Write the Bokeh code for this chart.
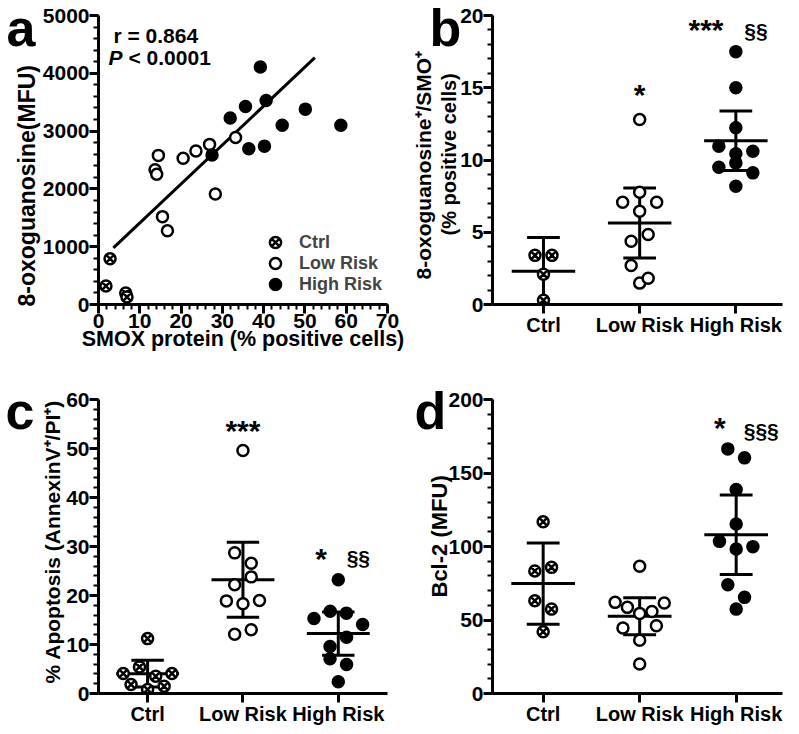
import numpy as np
from bokeh.plotting import figure
from bokeh.layouts import gridplot
from bokeh.models import (Label, Legend, LegendItem, SingleIntervalTicker,
                          FixedTicker, Range1d, Title)
from bokeh.embed import file_html
from bokeh.resources import INLINE

FONT = "Liberation Sans"
CATEGORIES = ["Ctrl", "Low Risk", "High Risk"]

# ---------------- panel a : SMOX protein vs 8-oxoguanosine ----------------
a_ctrl_smox = [1.8, 2.8, 6.6, 6.9]
a_ctrl_oxo = [320, 790, 200, 130]
a_low_smox = [13.7, 14.1, 14.5, 15.5, 16.7, 20.5, 23.6, 26.9, 28.3, 33.2]
a_low_oxo = [2330, 2255, 2580, 1520, 1275, 2530, 2655, 2770, 1910, 2890]
a_high_smox = [27.5, 31.9, 35.6, 39.2, 36.4, 40.6, 40.2, 44.5, 50.1, 58.7]
a_high_oxo = [2585, 3225, 3425, 4110, 2695, 3530, 2740, 3100, 3380, 3100]
a_fit_smox = [3.6, 52.4]          # regression line end points
a_fit_oxo = [980, 4270]
a_r_text = "r = 0.864"
a_p_text = "< 0.0001"

# ---------------- panel b : 8-oxoguanosine+/SMO+ (% positive cells) -------
b_ctrl = [3.4, 2.1, 3.4, 0.3]
b_low = [12.8, 7.08, 7.77, 7.08, 6.46, 4.38, 4.84, 2.70, 1.48, 1.82]
b_high = [17.5, 15.0, 12.23, 10.96, 10.43, 10.61, 9.50, 9.80, 9.11, 8.19]

# ---------------- panel c : % apoptosis ----------------
c_ctrl = [11.2, 4.08, 5.43, 3.5, 4.08, 1.83, 0.8, 1.5]
c_low = [49.6, 28.7, 26.6, 22.2, 23.8, 18.9, 18.3, 19.0, 12.1, 13.0]
c_high = [23.2, 15.3, 16.8, 16.4, 14.1, 9.6, 11.5, 7.1, 5.9, 2.4]

# ---------------- panel d : Bcl-2 (MFU) ----------------
d_ctrl = [116.9, 83.3, 85.8, 63.1, 57.4, 42.0]
d_low = [86.5, 62.0, 58.6, 54.5, 55.8, 61.5, 44.5, 36.3, 46.1, 20.0]
d_high = [166.4, 160.3, 138.7, 115.3, 103.5, 98.3, 99.9, 74.0, 65.4, 57.4]

# significance marks: (text, category position, value)
b_marks = [("*", 2.0, 14.5), ("***", 2.69, 19.0), ("§§", 3.21, 18.95)]
c_marks = [("***", 2.0, 53.7), ("*", 2.82, 27.6), ("§§", 3.21, 27.7)]
d_marks = [("*", 2.83, 181.0), ("§§§", 3.26, 178.6)]

T975 = {3: 3.182, 4: 2.776, 5: 2.571, 6: 2.447, 7: 2.365, 8: 2.306, 9: 2.262}


def mean_ci(v):
    v = np.asarray(v, float)
    n = len(v)
    return v.mean(), T975[n - 1] * v.std(ddof=1) / np.sqrt(n)


def swarm_offsets(values, px_per_unit, row_tol=15.0, step=17.0, max_half=25.0):
    vals = np.asarray(values, float)
    order = sorted(range(len(vals)), key=lambda i: -vals[i])
    rows, cur = [], []
    for i in order:
        if cur and (vals[cur[0]] - vals[i]) * px_per_unit >= row_tol:
            rows.append(cur)
            cur = []
        cur.append(i)
    if cur:
        rows.append(cur)
    offs = np.zeros(len(vals))
    for row in rows:
        row = sorted(row)
        n = len(row)
        s = step if n <= 2 else min(step, 2 * max_half / (n - 1))
        for k, i in enumerate(row):
            offs[i] = (k - (n - 1) / 2) * s
    return offs


def style_axis(ax, size=20):
    ax.axis_line_width = 3
    ax.axis_line_color = "black"
    ax.major_tick_line_width = 3
    ax.major_tick_line_color = "black"
    ax.minor_tick_line_width = 2
    ax.minor_tick_line_color = "black"
    ax.major_tick_in = 0
    ax.major_tick_out = 9
    ax.minor_tick_in = 0
    ax.minor_tick_out = 5
    ax.major_label_text_font = FONT
    ax.major_label_text_font_style = "bold"
    ax.major_label_text_font_size = f"{size}px"
    ax.major_label_text_color = "black"
    ax.major_label_standoff = 0


def text(p, s, x, y, size, units="screen", align="left",
         baseline="alphabetic", style="bold"):
    p.add_layout(Label(x=x, y=y, x_units=units, y_units=units, text=s,
                       text_align=align, text_baseline=baseline,
                       text_font=FONT, text_font_style=style,
                       text_font_size=f"{size}px", text_color="black"))


def side_title(p, s, size, offset, standoff):
    p.add_layout(Title(text=s, align="left", offset=offset,
                       vertical_align="bottom", standoff=standoff,
                       text_font=FONT, text_font_style="bold",
                       text_font_size=f"{size}px", text_color="black"), "left")


def letter(p, s, offset, standoff):
    t = p.title
    t.text = s
    t.align = "left"
    t.offset = offset
    t.vertical_align = "bottom"
    t.standoff = standoff
    t.text_font = FONT
    t.text_font_style = "bold"
    t.text_font_size = "52px"
    t.text_color = "black"


def make_fig(width, height, borders, xr, yr):
    l, r, t, b = borders
    p = figure(width=width, height=height, output_backend="svg",
               toolbar_location=None, x_range=Range1d(*xr), y_range=Range1d(*yr),
               min_border_left=l, min_border_right=r, min_border_top=t,
               min_border_bottom=b)
    p.outline_line_color = None
    p.xgrid.grid_line_color = None
    p.ygrid.grid_line_color = None
    p.background_fill_color = "white"
    p.border_fill_color = "white"
    return p


MARK = dict(size=11, line_color="black", line_width=2.5)
STYLES = [dict(marker="circle_x", fill_color="white"),
          dict(marker="circle", fill_color="white"),
          dict(marker="circle", fill_color="black")]


def group_panel(p, groups, frame_w, frame_h, xr, yr):
    px_x = frame_w / (xr[1] - xr[0])
    px_y = frame_h / (yr[1] - yr[0])
    for k, vals in enumerate(groups):
        cat = k + 1
        m, h = mean_ci(vals)
        p.segment(x0=[cat - 0.33], y0=[m], x1=[cat + 0.33], y1=[m],
                  line_width=3, line_color="black")
        p.segment(x0=[cat], y0=[m - h], x1=[cat], y1=[m + h],
                  line_width=3, line_color="black")
        p.segment(x0=[cat - 0.17, cat - 0.17], y0=[m - h, m + h],
                  x1=[cat + 0.17, cat + 0.17], y1=[m - h, m + h],
                  line_width=3, line_color="black")
        offs = swarm_offsets(vals, px_y) / px_x
        p.scatter(x=list(cat + offs), y=list(vals), **STYLES[k], **MARK)
    p.xaxis.ticker = FixedTicker(ticks=[1, 2, 3], minor_ticks=[])
    p.xaxis.major_label_overrides = {1: CATEGORIES[0], 2: CATEGORIES[1],
                                     3: CATEGORIES[2]}
    style_axis(p.xaxis[0], 20)
    style_axis(p.yaxis[0], 21)


def marks(p, items):
    for s, x, y in items:
        size = 30 if s.startswith("*") else 21
        text(p, s, x, y, size, units="data", align="center", baseline="middle")


# ======================= panel a =======================
pa = make_fig(404, 380, (97, 17, 15, 76), (0, 70), (0, 5000))
pa.line(x=a_fit_smox, y=a_fit_oxo, line_width=3, line_color="black")
r_ctrl = pa.scatter(x=a_ctrl_smox, y=a_ctrl_oxo, **STYLES[0], **MARK)
r_low = pa.scatter(x=a_low_smox, y=a_low_oxo, **STYLES[1], **MARK)
r_high = pa.scatter(x=a_high_smox, y=a_high_oxo, **STYLES[2], **MARK)
pa.xaxis.ticker = SingleIntervalTicker(interval=10, num_minor_ticks=5)
pa.yaxis.ticker = SingleIntervalTicker(interval=1000, num_minor_ticks=5)
style_axis(pa.xaxis[0], 21)
style_axis(pa.yaxis[0], 21)
pa.xaxis.axis_label = "SMOX protein (% positive cells)"
pa.xaxis.axis_label_text_font = FONT
pa.xaxis.axis_label_text_font_style = "bold"
pa.xaxis.axis_label_text_font_size = "21.5px"
pa.xaxis.axis_label_text_color = "black"
pa.xaxis.axis_label_standoff = -4
for lab, rend, ybot in [(CATEGORIES[0], r_ctrl, 48), (CATEGORIES[1], r_low, 27),
                        (CATEGORIES[2], r_high, 6)]:
    pa.add_layout(Legend(items=[LegendItem(label=lab, renderers=[rend])],
                         location=(163, ybot), glyph_width=28, glyph_height=28,
                         label_height=28, padding=0, margin=0, spacing=0,
                         label_standoff=10, border_line_color=None,
                         background_fill_alpha=0, label_text_font=FONT,
                         label_text_font_style="bold",
                         label_text_font_size="18px"))
letter(pa, "a", -92, -82)
side_title(pa, "8-oxoguanosine(MFU)", 23, -2, -1)
text(pa, a_r_text, 15, 269, 21)
text(pa, "P", 10, 247, 21, style="bold italic")
text(pa, a_p_text, 30, 247, 21)

# ======================= panel b =======================
b_xr, b_yr = (0.47, 3.485), (0, 20)
pb = make_fig(395, 380, (88, 17, 15, 76), b_xr, b_yr)
group_panel(pb, [b_ctrl, b_low, b_high], 290, 289, b_xr, b_yr)
pb.yaxis.ticker = SingleIntervalTicker(interval=5, num_minor_ticks=5)
marks(pb, b_marks)
letter(pb, "b", -63, -82)
side_title(pb, "(% positive cells)", 20, 69, -5)
side_title(pb, "8-oxoguanosine⁺/SMO⁺", 21, 25, 7)

# ======================= panel c =======================
c_xr, c_yr = (0.485, 3.516), (0, 60)
pc = make_fig(404, 354, (98, 9, 19, 41), c_xr, c_yr)
group_panel(pc, [c_ctrl, c_low, c_high], 297, 294, c_xr, c_yr)
pc.yaxis.ticker = SingleIntervalTicker(interval=10, num_minor_ticks=5)
marks(pc, c_marks)
letter(pc, "c", -93, -80)
side_title(pc, "% Apoptosis (AnnexinV⁺/PI⁺)", 21, 10, -1)

# ======================= panel d =======================
d_xr, d_yr = (0.475, 3.48), (0, 200)
pd_ = make_fig(395, 354, (88, 12, 19, 41), d_xr, d_yr)
group_panel(pd_, [d_ctrl, d_low, d_high], 295, 294, d_xr, d_yr)
pd_.yaxis.ticker = SingleIntervalTicker(interval=50, num_minor_ticks=5)
marks(pd_, d_marks)
letter(pd_, "d", -78, -80)
side_title(pd_, "Bcl-2 (MFU)", 22, 96, -12)

layout = gridplot([[pa, pb], [pc, pd_]], toolbar_location=None)
open("out.html", "w").write(file_html(layout, INLINE))
